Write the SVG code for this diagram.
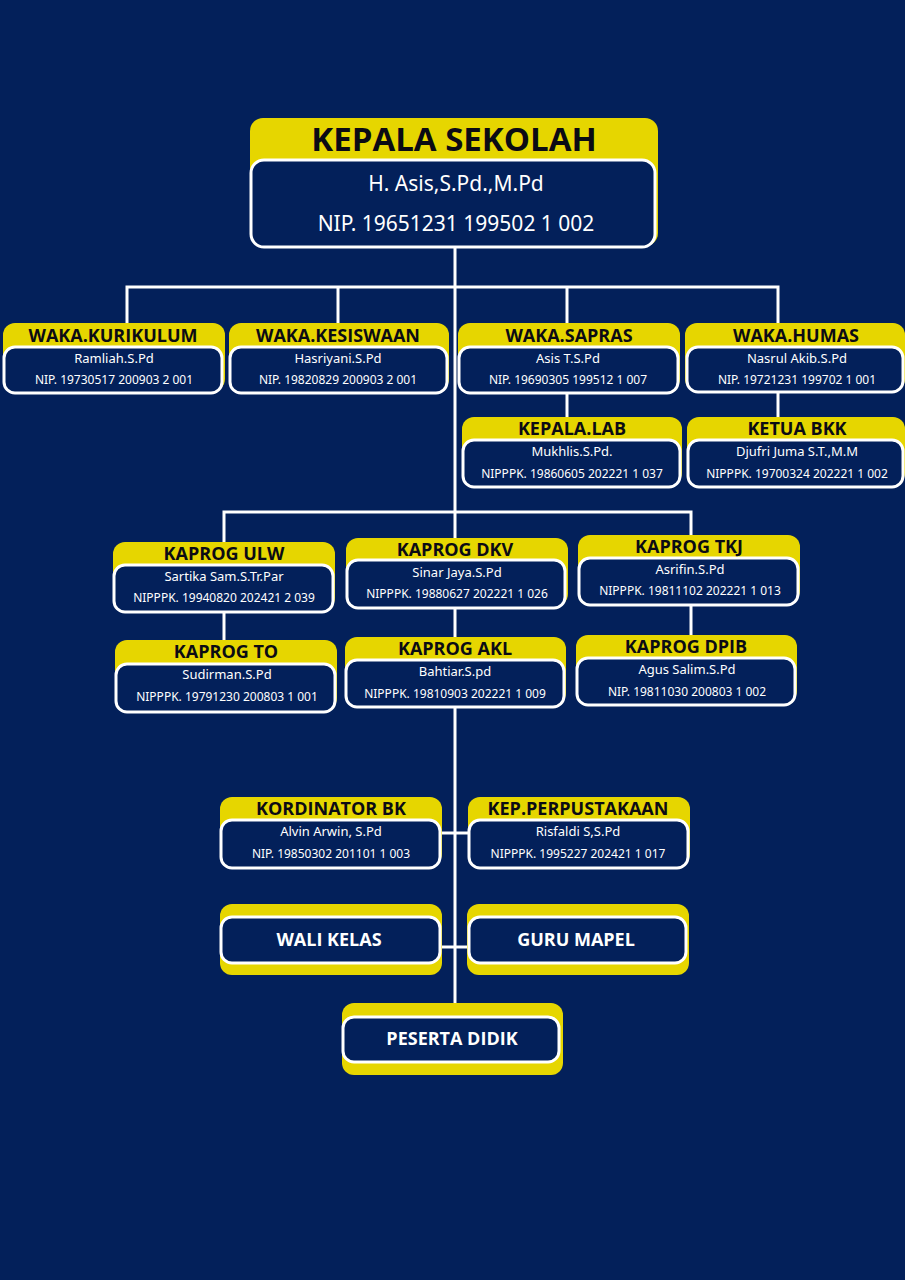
<svg xmlns="http://www.w3.org/2000/svg" width="905" height="1280" viewBox="0 0 905 1280">
  <defs>
    <style>
      .bg { fill: #03205a; }
      .tab { fill: #e6d600; }
      .card { fill: #03205a; stroke: #ffffff; stroke-width: 3; }
      .wire { stroke: #ffffff; stroke-width: 3; fill: none; }
      .hd { font-family: "Open Sans", "Liberation Sans", sans-serif; font-weight: 700; fill: #0b0b14; text-anchor: middle; }
      .h1 { font-size: 33px; }
      .h2 { font-size: 18px; }
      .nm { font-family: "Noto Sans", "Liberation Sans", sans-serif; fill: #ffffff; text-anchor: middle; font-size: 13px; }
      .id { font-family: "Noto Sans", "Liberation Sans", sans-serif; fill: #ffffff; text-anchor: middle; font-size: 12px; }
      .big { font-size: 21px; }
      .lbl { font-family: "Open Sans", "Liberation Sans", sans-serif; font-weight: 700; fill: #ffffff; text-anchor: middle; font-size: 18px; }
    </style>
  </defs>

  <rect class="bg" x="0" y="0" width="905" height="1280"/>

  <!-- connectors -->
  <g id="connectors">
    <line class="wire" x1="455" y1="248" x2="455" y2="1005"/>
    <polyline class="wire" points="127,325 127,287 778,287 778,325"/>
    <line class="wire" x1="338" y1="287" x2="338" y2="325"/>
    <line class="wire" x1="567" y1="287" x2="567" y2="325"/>
    <line class="wire" x1="567" y1="392" x2="567" y2="418"/>
    <line class="wire" x1="778" y1="392" x2="778" y2="418"/>
    <polyline class="wire" points="224,543 224,512 691,512 691,537"/>
    <line class="wire" x1="224" y1="611" x2="224" y2="641"/>
    <line class="wire" x1="691" y1="604" x2="691" y2="636"/>
    <line class="wire" x1="440" y1="833" x2="469" y2="833"/>
    <line class="wire" x1="440" y1="947" x2="469" y2="947"/>
  </g>

  <g id="kepala-sekolah">
    <rect class="tab" x="250" y="118" width="408" height="128" rx="13"/>
    <rect class="card" x="251" y="160" width="404" height="87" rx="13"/>
    <text class="hd h1" x="454" y="151">KEPALA SEKOLAH</text>
    <text class="nm big" x="456" y="191">H. Asis,S.Pd.,M.Pd</text>
    <text class="nm big" x="456" y="231">NIP. 19651231 199502 1 002</text>
  </g>

  <g id="waka-kurikulum">
    <rect class="tab" x="3" y="323" width="222" height="68" rx="12"/>
    <rect class="card" x="4" y="347" width="218" height="46" rx="11"/>
    <text class="hd h2" x="113" y="342">WAKA.KURIKULUM</text>
    <text class="nm" x="114" y="363">Ramliah.S.Pd</text>
    <text class="id" x="114" y="384">NIP. 19730517 200903 2 001</text>
  </g>

  <g id="waka-kesiswaan">
    <rect class="tab" x="229" y="323" width="220" height="68" rx="12"/>
    <rect class="card" x="230" y="347" width="217" height="46" rx="11"/>
    <text class="hd h2" x="338" y="342">WAKA.KESISWAAN</text>
    <text class="nm" x="338" y="363">Hasriyani.S.Pd</text>
    <text class="id" x="338" y="384">NIP. 19820829 200903 2 001</text>
  </g>

  <g id="waka-sapras">
    <rect class="tab" x="458" y="323" width="222" height="68" rx="12"/>
    <rect class="card" x="459" y="347" width="219" height="46" rx="11"/>
    <text class="hd h2" x="569" y="342">WAKA.SAPRAS</text>
    <text class="nm" x="568" y="363">Asis T.S.Pd</text>
    <text class="id" x="568" y="384">NIP. 19690305 199512 1 007</text>
  </g>

  <g id="waka-humas">
    <rect class="tab" x="685" y="323" width="220" height="68" rx="12"/>
    <rect class="card" x="687" y="347" width="216" height="45" rx="11"/>
    <text class="hd h2" x="796" y="342">WAKA.HUMAS</text>
    <text class="nm" x="797" y="363">Nasrul Akib.S.Pd</text>
    <text class="id" x="797" y="384">NIP. 19721231 199702 1 001</text>
  </g>

  <g id="kepala-lab">
    <rect class="tab" x="462" y="417" width="220" height="68" rx="12"/>
    <rect class="card" x="463" y="440" width="217" height="47" rx="11"/>
    <text class="hd h2" x="572" y="435">KEPALA.LAB</text>
    <text class="nm" x="572" y="456">Mukhlis.S.Pd.</text>
    <text class="id" x="572" y="478">NIPPPK. 19860605 202221 1 037</text>
  </g>

  <g id="ketua-bkk">
    <rect class="tab" x="687" y="417" width="218" height="68" rx="12"/>
    <rect class="card" x="688" y="440" width="215" height="47" rx="11"/>
    <text class="hd h2" x="797" y="435">KETUA BKK</text>
    <text class="nm" x="797" y="456">Djufri Juma S.T.,M.M</text>
    <text class="id" x="797" y="478">NIPPPK. 19700324 202221 1 002</text>
  </g>

  <g id="kaprog-ulw">
    <rect class="tab" x="113" y="542" width="222" height="68" rx="12"/>
    <rect class="card" x="114" y="565" width="219" height="47" rx="11"/>
    <text class="hd h2" x="224" y="560">KAPROG ULW</text>
    <text class="nm" x="224" y="581">Sartika Sam.S.Tr.Par</text>
    <text class="id" x="224" y="602">NIPPPK. 19940820 202421 2 039</text>
  </g>

  <g id="kaprog-dkv">
    <rect class="tab" x="346" y="538" width="222" height="68" rx="12"/>
    <rect class="card" x="347" y="560" width="218" height="48" rx="11"/>
    <text class="hd h2" x="455" y="556">KAPROG DKV</text>
    <text class="nm" x="457" y="577">Sinar Jaya.S.Pd</text>
    <text class="id" x="457" y="598">NIPPPK. 19880627 202221 1 026</text>
  </g>

  <g id="kaprog-tkj">
    <rect class="tab" x="578" y="535" width="222" height="68" rx="12"/>
    <rect class="card" x="579" y="558" width="219" height="47" rx="11"/>
    <text class="hd h2" x="689" y="553">KAPROG TKJ</text>
    <text class="nm" x="690" y="574">Asrifin.S.Pd</text>
    <text class="id" x="690" y="595">NIPPPK. 19811102 202221 1 013</text>
  </g>

  <g id="kaprog-to">
    <rect class="tab" x="115" y="640" width="222" height="70" rx="12"/>
    <rect class="card" x="116" y="664" width="219" height="48" rx="11"/>
    <text class="hd h2" x="226" y="658">KAPROG TO</text>
    <text class="nm" x="227" y="679">Sudirman.S.Pd</text>
    <text class="id" x="227" y="701">NIPPPK. 19791230 200803 1 001</text>
  </g>

  <g id="kaprog-akl">
    <rect class="tab" x="345" y="637" width="221" height="68" rx="12"/>
    <rect class="card" x="346" y="660" width="218" height="47" rx="11"/>
    <text class="hd h2" x="455" y="655">KAPROG AKL</text>
    <text class="nm" x="455" y="676">Bahtiar.S.pd</text>
    <text class="id" x="455" y="698">NIPPPK. 19810903 202221 1 009</text>
  </g>

  <g id="kaprog-dpib">
    <rect class="tab" x="576" y="635" width="221" height="68" rx="12"/>
    <rect class="card" x="577" y="658" width="218" height="47" rx="11"/>
    <text class="hd h2" x="686" y="653">KAPROG DPIB</text>
    <text class="nm" x="687" y="674">Agus Salim.S.Pd</text>
    <text class="id" x="687" y="696">NIP. 19811030 200803 1 002</text>
  </g>

  <g id="kordinator-bk">
    <rect class="tab" x="220" y="797" width="222" height="69" rx="12"/>
    <rect class="card" x="221" y="820" width="219" height="48" rx="11"/>
    <text class="hd h2" x="331" y="815">KORDINATOR BK</text>
    <text class="nm" x="331" y="836">Alvin Arwin, S.Pd</text>
    <text class="id" x="331" y="858">NIP. 19850302 201101 1 003</text>
  </g>

  <g id="kep-perpustakaan">
    <rect class="tab" x="468" y="797" width="222" height="69" rx="12"/>
    <rect class="card" x="469" y="820" width="219" height="48" rx="11"/>
    <text class="hd h2" x="578" y="815">KEP.PERPUSTAKAAN</text>
    <text class="nm" x="578" y="836">Risfaldi S,S.Pd</text>
    <text class="id" x="578" y="858">NIPPPK. 1995227 202421 1 017</text>
  </g>

  <g id="wali-kelas">
    <rect class="tab" x="220" y="904" width="222" height="71" rx="12"/>
    <rect class="card" x="221" y="917" width="219" height="46" rx="11"/>
    <text class="lbl" x="329" y="946">WALI KELAS</text>
  </g>

  <g id="guru-mapel">
    <rect class="tab" x="467" y="904" width="222" height="71" rx="12"/>
    <rect class="card" x="469" y="917" width="217" height="46" rx="11"/>
    <text class="lbl" x="576" y="946">GURU MAPEL</text>
  </g>

  <g id="peserta-didik">
    <rect class="tab" x="342" y="1003" width="221" height="72" rx="12"/>
    <rect class="card" x="343" y="1017" width="216" height="45" rx="11"/>
    <text class="lbl" x="452" y="1045">PESERTA DIDIK</text>
  </g>
</svg>
